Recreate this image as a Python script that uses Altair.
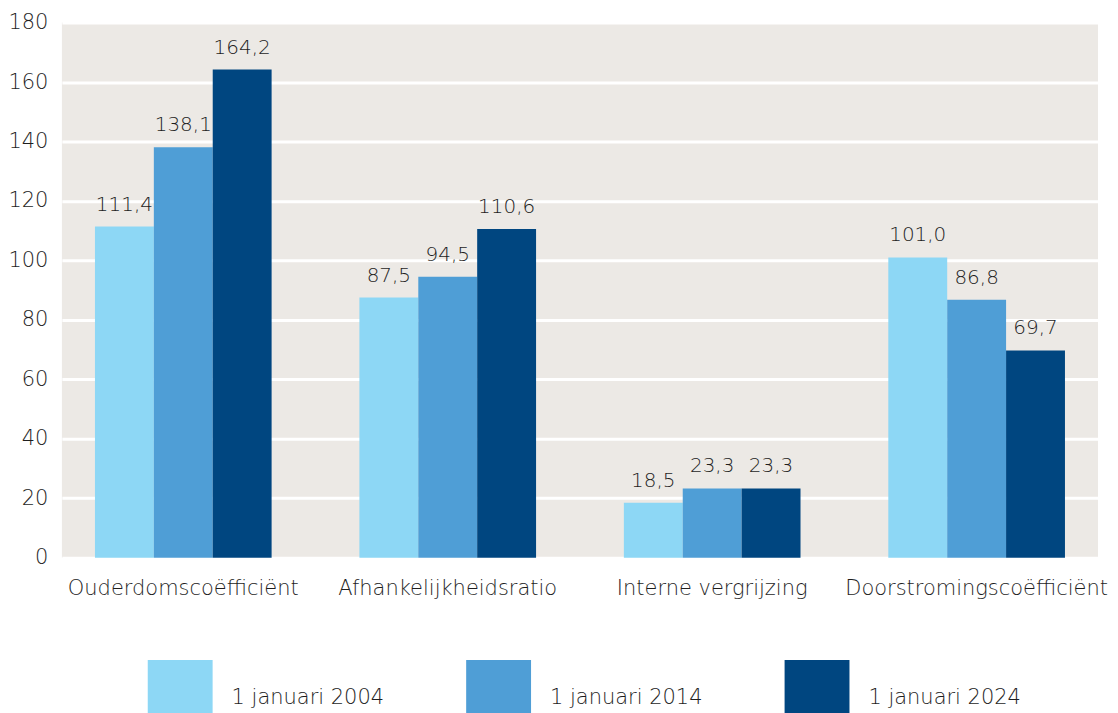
import altair as alt
import pandas as pd

categories = ["Ouderdomscoëfficiënt", "Afhankelijkheidsratio", "Interne vergrijzing", "Doorstromingscoëfficiënt"]
series = ["1 januari 2004", "1 januari 2014", "1 januari 2024"]
values_2004 = [111.4, 87.5, 18.5, 101.0]
values_2014 = [138.1, 94.5, 23.3, 86.8]
values_2024 = [164.2, 110.6, 23.3, 69.7]
colors = ["#8DD7F5", "#4F9ED6", "#004680"]
y_ticks = list(range(0, 181, 20))

rows = []
for s, vals in zip(series, [values_2004, values_2014, values_2024]):
    for c, v in zip(categories, vals):
        rows.append({"cat": c, "serie": s, "v": v})
df = pd.DataFrame(rows)

FONT = "DejaVu Sans"
FW = 300
TXT = "#1e1e1e"

base = alt.Chart(df).encode(
    x=alt.X("cat:N", sort=categories, title=None,
            scale=alt.Scale(paddingInner=0.332, paddingOuter=0.125),
            axis=alt.Axis(labelAngle=0, labelPadding=20, labelFontSize=21, labelColor=TXT,
                          labelFont=FONT, labelFontWeight=FW, domain=False, ticks=False,
                          labelLimit=400)),
    xOffset=alt.XOffset("serie:N", sort=series, scale=alt.Scale(paddingInner=0)),
)

bars = base.mark_bar().encode(
    y=alt.Y("v:Q", title=None, scale=alt.Scale(domain=[0, 180], nice=False),
            axis=alt.Axis(values=y_ticks, labelFontSize=21, labelColor=TXT, labelFont=FONT,
                          labelFontWeight=FW, labelPadding=14, domain=False, ticks=False,
                          gridColor="white", gridWidth=3)),
    color=alt.Color("serie:N", sort=series, scale=alt.Scale(domain=series, range=colors),
                    legend=alt.Legend(title=None, orient="none", legendX=91, legendY=638,
                                      direction="horizontal", columns=3, columnPadding=82,
                                      symbolType="M-1.2,-1H1.2V1H-1.2Z", symbolSize=2934,
                                      symbolStrokeWidth=0, symbolOpacity=1,
                                      labelFontSize=21, labelFont=FONT, labelFontWeight=FW,
                                      labelColor=TXT, labelOffset=24, labelBaseline="top",
                                      labelLimit=300)),
)

labels = base.transform_calculate(
    lbl="replace(format(datum.v, '.1f'), '.', ',')"
).mark_text(dy=-22, fontSize=20, font=FONT, fontWeight=FW, color=TXT).encode(
    y=alt.Y("v:Q"),
    text="lbl:N",
)

chart = alt.layer(bars, labels).properties(
    width=1038, height=536,
    autosize=alt.AutoSizeParams(type="none"),
    padding={"left": 54, "top": 14, "right": 12, "bottom": 155},
    background="white",
).configure_view(fill="#ECE9E5", stroke=None)

chart.save("out.html", embed_options={"renderer": "svg", "actions": False})
